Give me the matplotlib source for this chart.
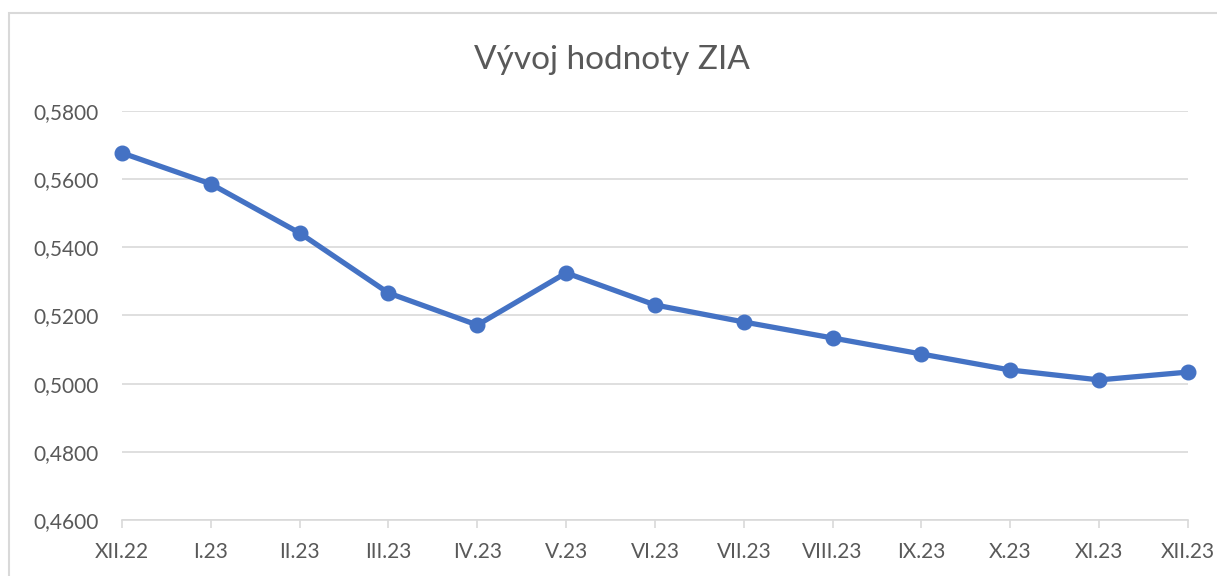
import matplotlib.pyplot as plt
from matplotlib.patches import Rectangle
from matplotlib.ticker import FuncFormatter

# data
months = ["XII.22", "I.23", "II.23", "III.23", "IV.23", "V.23", "VI.23",
          "VII.23", "VIII.23", "IX.23", "X.23", "XI.23", "XII.23"]
zia = [0.5677, 0.5586, 0.5442, 0.5266, 0.5172, 0.5325, 0.5231,
       0.5181, 0.5134, 0.5087, 0.5040, 0.5011, 0.5034]

plt.rcParams["font.family"] = ["Lato", "DejaVu Sans"]

fig = plt.figure(figsize=(12.17, 5.76), dpi=100)
ax = fig.add_axes([122 / 1217, 1 - 520 / 576, (1188 - 122) / 1217, (520 - 111) / 576])

# chart frame
fig.patches.append(Rectangle((9 / 1217, -0.05), 1.2, 1 - 13 / 576 + 0.05,
                             transform=fig.transFigure, fill=False,
                             edgecolor="#D9D9D9", linewidth=1.5))

x = range(len(months))
ax.plot(x, zia, color="#4472C4", linewidth=3.8, marker="o", markersize=10.5,
        solid_capstyle="round", clip_on=False, zorder=3)

ax.set_xlim(0, len(months) - 1)
ax.set_ylim(0.46, 0.58)
ax.set_yticks([0.46, 0.48, 0.50, 0.52, 0.54, 0.56, 0.58])
ax.yaxis.set_major_formatter(FuncFormatter(lambda v, p: f"{v:.4f}".replace(".", ",")))
ax.set_xticks(list(x))
ax.set_xticklabels(months)

ax.grid(axis="y", color="#D9D9D9", linewidth=1.2)
ax.set_axisbelow(True)
for s in ["top", "right", "left"]:
    ax.spines[s].set_visible(False)
ax.spines["bottom"].set_color("#D9D9D9")
ax.spines["bottom"].set_linewidth(1.2)
ax.tick_params(axis="y", length=0, pad=17, labelsize=15, labelcolor="#595959")
ax.tick_params(axis="x", length=6, width=1.2, color="#D9D9D9", pad=10,
               labelsize=15, labelcolor="#595959")

fig.text(612 / 1217, 1 - 60 / 576, "Vývoj hodnoty ZIA", ha="center", va="center",
         fontsize=24, color="#595959")

fig.savefig("out.png", dpi=100)
